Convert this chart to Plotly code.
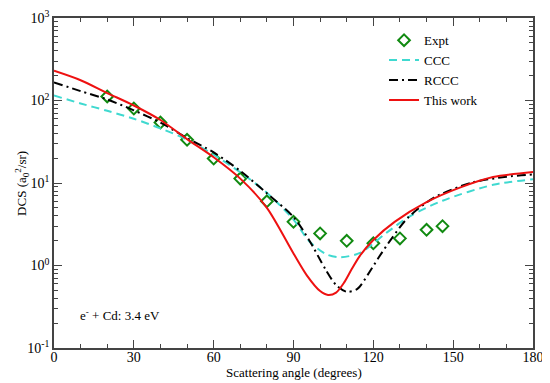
import plotly.graph_objects as go

expt_x = [20, 30, 40, 50, 60, 70, 80, 90, 100, 110, 120, 130, 140, 146]
expt_y = [112, 80, 54, 33.4, 19.8, 11.3, 6.0, 3.38, 2.45, 1.99, 1.86, 2.13, 2.71, 3.0]

ccc_x = [0, 10, 20, 30, 40, 50, 60, 70, 80, 90, 96, 102.5, 107.5, 115, 125, 134, 146, 165, 180]
ccc_y = [115, 92, 75, 60, 46, 33.5, 22, 13.5, 7.6, 3.6, 1.95, 1.36, 1.26, 1.42, 2.5, 4.0, 6.1, 9.5, 11.1]

rccc_x = [0, 10, 20, 30, 40, 50, 60, 70, 80, 90, 96, 102, 106, 110, 114, 118, 122, 127, 133, 143, 157, 170, 180]
rccc_y = [166, 130, 103, 76, 54, 35, 23.5, 14, 7.5, 3.87, 2.0, 0.9, 0.58, 0.48, 0.52, 0.78, 1.25, 2.15, 3.8, 6.7, 10.1, 11.9, 12.7]

this_x = [0, 10, 20, 30, 40, 50, 60, 70, 80, 90, 95, 100, 103, 106, 109, 112, 115, 120, 128, 140, 153, 165, 180]
this_y = [229, 176, 123, 87, 58, 34, 20.5, 11.3, 5.0, 1.4, 0.76, 0.49, 0.44, 0.47, 0.62, 0.92, 1.32, 2.04, 3.38, 5.85, 8.9, 11.8, 13.6]

x_ticks = [0, 30, 60, 90, 120, 150, 180]
y_tickvals = [0.1, 1, 10, 100, 1000]
y_ticktext = ["10<sup>-1</sup>", "10<sup>0</sup>", "10<sup>1</sup>", "10<sup>2</sup>", "10<sup>3</sup>"]

FONT = "Liberation Serif"

fig = go.Figure()
fig.add_trace(go.Scatter(x=expt_x, y=expt_y, mode="markers", name="Expt",
                         marker=dict(symbol="diamond-open", size=9, color="#118a11",
                                     line=dict(width=2, color="#118a11"))))
fig.add_trace(go.Scatter(x=ccc_x, y=ccc_y, mode="lines", name="CCC", line_shape="spline",
                         line=dict(color="#3fd9d0", width=2, dash="8px,5px", smoothing=0.8)))
fig.add_trace(go.Scatter(x=rccc_x, y=rccc_y, mode="lines", name="RCCC", line_shape="spline",
                         line=dict(color="black", width=2, dash="9px,4px,2px,4px", smoothing=0.8)))
fig.add_trace(go.Scatter(x=this_x, y=this_y, mode="lines", name="This work", line_shape="spline",
                         line=dict(color="#ee1111", width=2, smoothing=0.8)))

axis_common = dict(showline=True, linecolor="#444", linewidth=1.6, mirror="allticks",
                   ticks="inside", tickcolor="#444", showgrid=False, zeroline=False,
                   ticklabeloverflow="allow",
                   tickfont=dict(family=FONT, size=14, color="black"))

fig.update_xaxes(range=[0, 180], tickvals=x_ticks, ticklen=8, tickwidth=1.3,
                 minor=dict(ticks="inside", dtick=10, ticklen=4, tickcolor="#444", tickwidth=1.3),
                 ticklabelstandoff=-5,
                 **axis_common)
fig.update_yaxes(type="log", range=[-1, 3], tickvals=y_tickvals, ticktext=y_ticktext, ticklen=8, tickwidth=1.3,
                 minor=dict(ticks="inside", ticklen=4, tickcolor="#444", tickwidth=1.3, dtick="D1"),
                 **axis_common)

fig.add_annotation(x=0.5, y=-0.074, xref="paper", yref="paper", xanchor="center", yanchor="middle",
                   text="Scattering angle (degrees)", showarrow=False,
                   font=dict(family=FONT, size=13, color="black"))
fig.add_annotation(x=-0.067, y=0.5, xref="paper", yref="paper", xanchor="center", yanchor="middle",
                   text="DCS (a<sub>0</sub><sup>2</sup>/sr)", showarrow=False, textangle=-90,
                   font=dict(family=FONT, size=13, color="black"))
fig.add_annotation(x=0.051, y=0.1, xref="paper", yref="paper", xanchor="left", yanchor="middle",
                   text="e<sup>-</sup> + Cd: 3.4 eV", showarrow=False,
                   font=dict(family=FONT, size=13, color="black"))

fig.update_layout(width=550, height=383, margin=dict(l=46, r=25, t=10, b=43, autoexpand=False),
                  plot_bgcolor="white", paper_bgcolor="white",
                  legend=dict(x=0.689, y=0.978, xanchor="left", yanchor="top", bgcolor="rgba(0,0,0,0)",
                              font=dict(family=FONT, size=13, color="black"), tracegroupgap=0,
                              itemwidth=30),
                  showlegend=True)

fig.write_html("out.html")
